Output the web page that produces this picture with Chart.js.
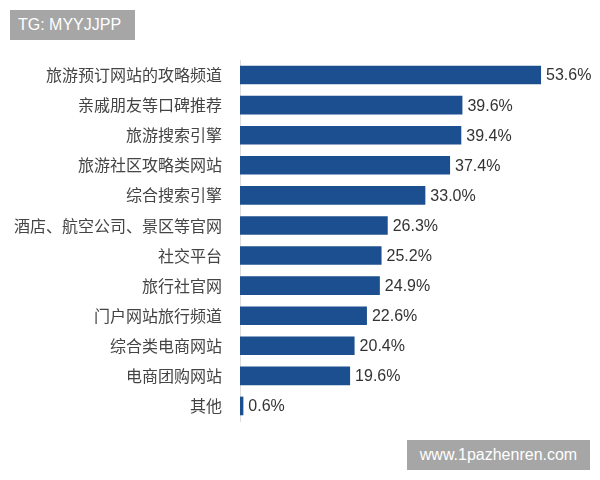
<!DOCTYPE html>
<html><head><meta charset="utf-8">
<script src="https://cdn.jsdelivr.net/npm/chart.js@4"></script>
<style>
html,body{margin:0;padding:0;background:#fff;}
#wrap{position:relative;width:600px;height:480px;}
.box{position:absolute;background:#a6a6a6;color:#fff;font-family:"Liberation Sans",Arial,sans-serif;font-size:16px;line-height:30px;padding:0 8px;}
</style></head><body>
<div id="wrap">
<canvas id="c" width="600" height="480"></canvas>
<div class="box" style="left:10px;top:10px;width:109px;">TG: MYYJJPP</div>
<div class="box" style="left:407px;top:440px;width:167px;text-align:center;">www.1pazhenren.com</div>
</div>
<script>
const categories=["旅游预订网站的攻略频道","亲戚朋友等口碑推荐","旅游搜索引擎","旅游社区攻略类网站","综合搜索引擎","酒店、航空公司、景区等官网","社交平台","旅行社官网","门户网站旅行频道","综合类电商网站","电商团购网站","其他"];
const values=[53.6,39.6,39.4,37.4,33.0,26.3,25.2,24.9,22.6,20.4,19.6,0.6];
const labelPlugin={id:'lbl',afterDatasetsDraw(chart){
  const ctx=chart.ctx;const meta=chart.getDatasetMeta(0);
  ctx.save();ctx.fillStyle='#333';ctx.font='16px "Liberation Sans",Arial,sans-serif';ctx.textBaseline='middle';
  meta.data.forEach((b,i)=>{ctx.fillText(values[i].toFixed(1)+'%',b.x+5,b.y+1);});
  ctx.restore();}};
new Chart(document.getElementById('c'),{type:'bar',
 data:{labels:categories,datasets:[{data:values,backgroundColor:'#1c4f8f',categoryPercentage:1,barPercentage:0.62}]},
 options:{indexAxis:'y',responsive:false,animation:false,
  layout:{padding:{top:60,bottom:59,right:23,left:0}},
  plugins:{legend:{display:false},tooltip:{enabled:false}},
  scales:{x:{display:false,min:0,max:60},
   y:{grid:{display:false},border:{display:true,color:'#ddd'},
      afterFit(s){s.width=240;},
      ticks:{color:'#444',padding:10,font:{size:16,family:'"Noto Sans CJK SC",sans-serif'}}}}},
 plugins:[labelPlugin]});
</script></body></html>
